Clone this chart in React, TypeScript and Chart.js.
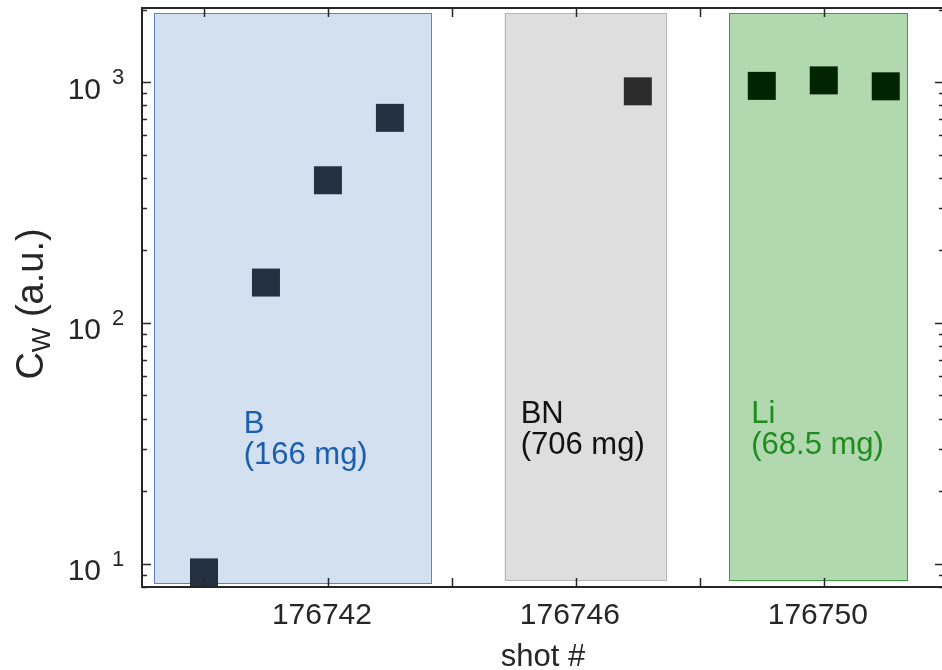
import React, { useEffect, useRef } from 'react';
import { Chart, registerables } from 'chart.js';

Chart.register(...registerables);

// Wall-material campaigns: name, deposited mass, shot span and Cw span of the shaded band
const regionNames = ['B', 'BN', 'Li'];
const regionMasses = ['(166 mg)', '(706 mg)', '(68.5 mg)'];
const regionShotFrom = [176739.19, 176744.85, 176748.47];
const regionShotTo = [176743.66, 176747.45, 176751.35];
const regionCwLow = [8.3, 8.5, 8.5];
const regionCwHigh = [1930, 1930, 1930];

// Tungsten concentration per shot
const shotsB = [176740, 176741, 176742, 176743];
const cwB = [9.2, 147, 391, 710];
const shotsBN = [176747];
const cwBN = [915];
const shotsLi = [176749, 176750, 176751];
const cwLi = [964, 1016, 960];

// Axis ticks
const xTickValues = [176740, 176742, 176744, 176746, 176748, 176750];
const xTickLabels = ['', '176742', '', '176746', '', '176750'];
const yDecades = [1, 2, 3];
const yMinorExtra = [8, 9];

const X_MIN = 176739;
const X_MAX = 176751.94;
const Y_MIN = 8;
const Y_MAX = 2030;

const FONT = '"Liberation Sans", Arial, Helvetica, sans-serif';
const AXIS_COLOR = '#262626';

const regionFill = ['#d3e0f0', '#dedede', '#b1d8ae'];
const regionEdge = ['#5f83c2', '#b4b4b4', '#3f9a3f'];
const regionTextColor = ['#1b5eae', '#111111', '#1f8c1f'];
// where each band's caption starts (shot #, Cw of the first baseline)
const captionAnchors = [
  { shot: 176740.64, cw: 34.8 },
  { shot: 176745.11, cw: 38.2 },
  { shot: 176748.83, cw: 38.2 },
];

const overlay = {
  id: 'overlay',
  beforeDatasetsDraw(chart: any) {
    const { ctx, scales } = chart;
    const x = scales.x;
    const y = scales.y;
    ctx.save();
    regionNames.forEach((_, i) => {
      const l = x.getPixelForValue(regionShotFrom[i]);
      const r = x.getPixelForValue(regionShotTo[i]);
      const t = y.getPixelForValue(regionCwHigh[i]);
      const b = y.getPixelForValue(regionCwLow[i]);
      ctx.fillStyle = regionFill[i];
      ctx.fillRect(l, t, r - l, b - t);
      ctx.strokeStyle = regionEdge[i];
      ctx.lineWidth = 1;
      ctx.strokeRect(Math.round(l) + 0.5, Math.round(t) + 0.5, Math.round(r - l), Math.round(b - t));
    });
    ctx.restore();
  },
  afterDatasetsDraw(chart: any) {
    const { ctx, scales } = chart;
    const x = scales.x;
    const y = scales.y;
    ctx.save();
    ctx.font = `31px ${FONT}`;
    ctx.textAlign = 'left';
    ctx.textBaseline = 'alphabetic';
    regionNames.forEach((name, i) => {
      const px = x.getPixelForValue(captionAnchors[i].shot);
      const py = y.getPixelForValue(captionAnchors[i].cw);
      ctx.fillStyle = regionTextColor[i];
      ctx.fillText(name, px, py);
      ctx.fillText(regionMasses[i], px, py + 31);
    });
    ctx.restore();
  },
  afterDraw(chart: any) {
    const { ctx, scales, chartArea } = chart;
    const x = scales.x;
    const y = scales.y;
    const { left, right, top, bottom } = chartArea;
    ctx.save();
    ctx.strokeStyle = AXIS_COLOR;
    ctx.fillStyle = AXIS_COLOR;

    // inward tick marks on all four sides
    ctx.lineWidth = 1.5;
    ctx.beginPath();
    xTickValues.forEach((v) => {
      const px = Math.round(x.getPixelForValue(v)) + 0.5;
      ctx.moveTo(px, bottom);
      ctx.lineTo(px, bottom - 9);
      ctx.moveTo(px, top);
      ctx.lineTo(px, top + 9);
    });
    const yTick = (val: number, len: number) => {
      if (val < Y_MIN || val > Y_MAX) return;
      const py = Math.round(y.getPixelForValue(val)) + 0.5;
      ctx.moveTo(left, py);
      ctx.lineTo(left + len, py);
      ctx.moveTo(right, py);
      ctx.lineTo(right - len, py);
    };
    yDecades.forEach((d) => {
      for (let m = 1; m <= 9; m++) {
        yTick(m * Math.pow(10, d), m === 1 ? 9 : 5);
      }
    });
    yMinorExtra.forEach((v) => yTick(v, 5));
    ctx.stroke();

    // axes box
    ctx.lineWidth = 2;
    ctx.strokeRect(left, top, right - left, bottom - top);

    // decade labels 10^n
    yDecades.forEach((d) => {
      const py = y.getPixelForValue(Math.pow(10, d));
      ctx.font = `30px ${FONT}`;
      ctx.textAlign = 'right';
      ctx.textBaseline = 'alphabetic';
      ctx.fillText('10', 101, py + 16.5);
      ctx.font = `22px ${FONT}`;
      ctx.textAlign = 'left';
      ctx.fillText(String(d), 112, py + 2);
    });

    // y title: C_W (a.u.)
    ctx.translate(43, 304);
    ctx.rotate(-Math.PI / 2);
    ctx.textAlign = 'left';
    ctx.textBaseline = 'alphabetic';
    ctx.font = `38px ${FONT}`;
    const wC = ctx.measureText('C').width;
    const rest = ' (a.u.)';
    const wRest = ctx.measureText(rest).width;
    ctx.font = `26px ${FONT}`;
    const wW = ctx.measureText('W').width;
    const total = wC + wW + wRest;
    let cx = -total / 2;
    ctx.font = `38px ${FONT}`;
    ctx.fillText('C', cx, 0);
    cx += wC;
    ctx.font = `26px ${FONT}`;
    ctx.fillText('W', cx, 7);
    cx += wW;
    ctx.font = `38px ${FONT}`;
    ctx.fillText(rest, cx, 0);
    ctx.restore();
  },
};

export default function App() {
  const canvasRef = useRef<HTMLCanvasElement | null>(null);

  useEffect(() => {
    const canvas = canvasRef.current;
    if (!canvas) return;
    const toPoints = (xs: number[], ys: number[]) => xs.map((s, i) => ({ x: s, y: ys[i] }));
    const marker = (color: string) => ({
      type: 'scatter' as const,
      pointStyle: 'rect',
      pointRadius: 19.8,
      pointHoverRadius: 19.8,
      pointBackgroundColor: color,
      pointBorderColor: color,
      pointBorderWidth: 0,
      showLine: false,
    });
    const chart = new Chart(canvas, {
      type: 'scatter',
      data: {
        datasets: [
          { label: 'B', data: toPoints(shotsB, cwB), ...marker('#243143') },
          { label: 'BN', data: toPoints(shotsBN, cwBN), ...marker('#2c2c2c') },
          { label: 'Li', data: toPoints(shotsLi, cwLi), ...marker('#022402') },
        ],
      },
      options: {
        responsive: false,
        animation: false,
        events: [],
        layout: { autoPadding: false, padding: { left: 0, right: 16, top: 8, bottom: 0 } },
        plugins: { legend: { display: false }, tooltip: { enabled: false } },
        scales: {
          x: {
            type: 'linear',
            min: X_MIN,
            max: X_MAX,
            grid: { display: false },
            border: { display: false },
            afterBuildTicks: (scale: any) => {
              scale.ticks = xTickValues.map((v) => ({ value: v }));
            },
            afterFit: (scale: any) => {
              scale.height = 83;
            },
            ticks: {
              autoSkip: false,
              maxRotation: 0,
              minRotation: 0,
              padding: 3,
              labelOffset: -6,
              color: AXIS_COLOR,
              font: { family: FONT, size: 30 },
              callback: (value: any) => {
                const i = xTickValues.indexOf(Number(value));
                return i >= 0 ? xTickLabels[i] : '';
              },
            },
            title: {
              display: true,
              text: 'shot #',
              color: AXIS_COLOR,
              font: { family: FONT, size: 31, lineHeight: 0.8 },
              padding: { top: 0, bottom: 0 },
            },
          },
          y: {
            type: 'logarithmic',
            min: Y_MIN,
            max: Y_MAX,
            grid: { display: false },
            border: { display: false },
            ticks: { display: false },
            afterFit: (scale: any) => {
              scale.width = 142;
            },
          },
        },
      },
      plugins: [overlay],
    });
    return () => chart.destroy();
  }, []);

  return (
    <div
      style={{
        position: 'absolute',
        left: 0,
        top: 0,
        width: 942,
        height: 670,
        overflow: 'hidden',
        background: '#ffffff',
      }}
    >
      <canvas ref={canvasRef} width={960} height={670} style={{ display: 'block' }} />
    </div>
  );
}
